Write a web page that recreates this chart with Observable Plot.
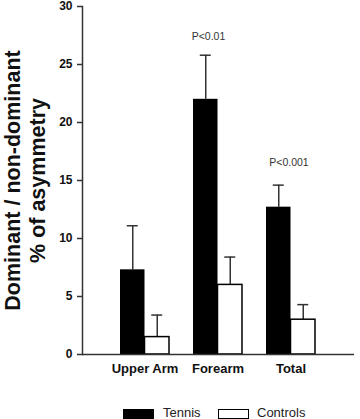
<!DOCTYPE html>
<html><head><meta charset="utf-8">
<script src="https://cdn.jsdelivr.net/npm/d3@7"></script>
<script src="https://cdn.jsdelivr.net/npm/@observablehq/plot@0.6"></script>
<style>
html,body{margin:0;padding:0;background:#fff;}
#chart{position:relative;width:360px;height:419px;overflow:hidden;font-family:"Liberation Sans",Arial,Helvetica,sans-serif;}
#chart svg{display:block;}
.lg-sw{position:absolute;top:409px;width:31px;height:10px;box-sizing:border-box;}
.lg-tx{position:absolute;top:405px;font-size:13px;line-height:15px;color:#222;}
</style></head><body><div id="chart"></div>
<script>
// ---- data ----
const categories = ["Upper Arm", "Forearm", "Total"];
const series = ["Tennis", "Controls"];
const tennisMean = [7.3, 22.0, 12.7];
const tennisErr = [3.8, 3.8, 1.9];
const controlsMean = [1.5, 6.0, 3.0];
const controlsErr = [1.9, 2.4, 1.3];
const yTicks = [0, 5, 10, 15, 20, 25, 30];
const yLabel = "Dominant / non-dominant\n% of asymmetry";
const pLabels = ["P<0.01", "P<0.001"];
const pCategory = ["Forearm", "Total"];
const pY = [27.4, 16.5];

const rows = categories.map((c, i) => ({
  category: c,
  tennis: tennisMean[i], tennisTop: tennisMean[i] + tennisErr[i],
  controls: controlsMean[i], controlsTop: controlsMean[i] + controlsErr[i]
}));
const pRows = pLabels.map((t, i) => ({label: t, category: pCategory[i], y: pY[i]}));

const half = 24.5;
const font = "'Liberation Sans', Arial, Helvetica, sans-serif";
const axisColor = "#333";

const plot = Plot.plot({
  width: 360, height: 400,
  marginLeft: 82, marginRight: 6, marginTop: 6, marginBottom: 46,
  style: {fontFamily: font, background: "white", overflow: "visible", color: "#111"},
  x: {type: "band", domain: categories, range: [82, 352], paddingInner: 0.3288, paddingOuter: 0.5137, axis: null},
  y: {domain: [0, 30], axis: null},
  marks: [
    // error bars
    Plot.ruleX(rows, {x: "category", y1: "tennis", y2: "tennisTop", dx: -half / 2, stroke: axisColor, strokeWidth: 1.5}),
    Plot.tickY(rows, {x: "category", y: "tennisTop", insetLeft: 6.75, insetRight: 31.25, stroke: axisColor, strokeWidth: 1.5}),
    Plot.ruleX(rows, {x: "category", y1: "controls", y2: "controlsTop", dx: half / 2, stroke: axisColor, strokeWidth: 1.5}),
    Plot.tickY(rows, {x: "category", y: "controlsTop", insetLeft: 31.25, insetRight: 6.75, stroke: axisColor, strokeWidth: 1.5}),
    // bars
    Plot.barY(rows, {x: "category", y: "tennis", fill: "black", insetLeft: 0, insetRight: half}),
    Plot.barY(rows, {x: "category", y: "controls", fill: "white", stroke: "black", strokeWidth: 1.5, insetLeft: half, insetRight: 0}),
    // axes
    Plot.frame({anchor: "left", stroke: axisColor, strokeWidth: 1.5}),
    Plot.ruleY([0], {stroke: axisColor, strokeWidth: 1.5}),
    Plot.axisY({ticks: yTicks, tickSize: 5, tickPadding: 5, fontSize: 12, fontWeight: "bold", stroke: axisColor, strokeWidth: 1.5, fill: "#111", label: null}),
    Plot.axisX({tickSize: 0, tickPadding: 9, fontSize: 13, fontWeight: "bold", fill: "#111", label: null}),
    // y label
    Plot.text([yLabel], {text: d => d, frameAnchor: "left", textAnchor: "middle", lineAnchor: "middle", rotate: -90, dx: -58.4, fontSize: 21.5, fontWeight: "bold", lineHeight: 1.163, fill: "#111"}),
    // p-values
    Plot.text([pRows[0]], {x: "category", y: "y", text: "label", dx: -9.5, fontSize: 10.5, fill: "#333"}),
    Plot.text([pRows[1]], {x: "category", y: "y", text: "label", dx: -2, fontSize: 10.5, fill: "#333"})
  ]
});

const chart = document.getElementById("chart");
chart.appendChild(plot);

// legend
const legendSwatch = [{left: 123, fill: "black", border: "none"}, {left: 218, fill: "white", border: "1.5px solid black"}];
const legendText = [163, 257];
series.forEach((s, i) => {
  const sw = document.createElement("div");
  sw.className = "lg-sw";
  sw.style.left = legendSwatch[i].left + "px";
  sw.style.background = legendSwatch[i].fill;
  sw.style.border = legendSwatch[i].border;
  chart.appendChild(sw);
  const tx = document.createElement("div");
  tx.className = "lg-tx";
  tx.style.left = legendText[i] + "px";
  tx.textContent = s;
  chart.appendChild(tx);
});
</script></body></html>
